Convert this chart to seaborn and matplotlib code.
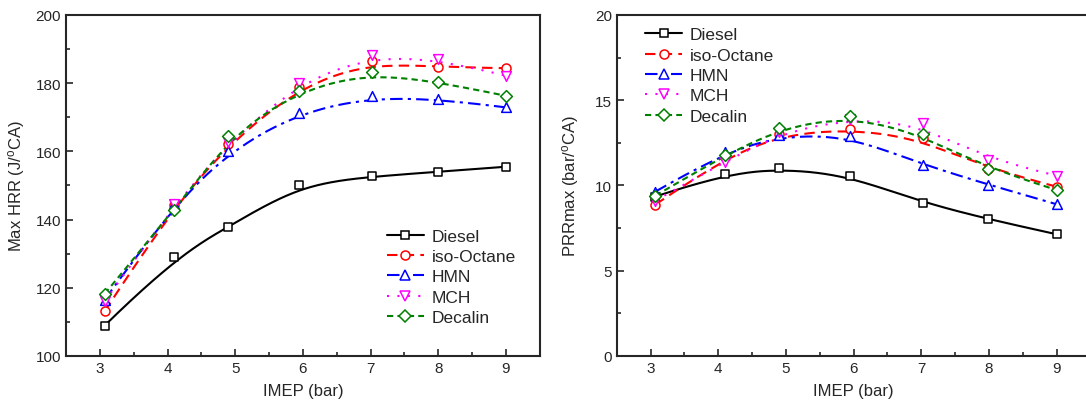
import numpy as np
import pandas as pd
import matplotlib
matplotlib.use("Agg")
import matplotlib.pyplot as plt
from matplotlib.lines import Line2D
import seaborn as sns

# IMEP (bar) at which each fuel was measured
imep = [3.07, 4.1, 4.9, 5.94, 7.02, 7.99, 9.0]
fuels = ["Diesel", "iso-Octane", "HMN", "MCH", "Decalin"]

# Max HRR (J/oCA)
hrr_diesel = [108.9, 128.9, 137.8, 150.1, 152.7, 154.0, 155.5]
hrr_isooctane = [113.1, 144.3, 162.2, 178.8, 186.6, 184.7, 184.4]
hrr_hmn = [116.5, 144.6, 160.2, 171.3, 176.1, 175.4, 172.9]
hrr_mch = [116.0, 144.5, 162.7, 180.0, 188.4, 187.1, 182.2]
hrr_decalin = [118.2, 142.8, 164.6, 177.8, 183.4, 180.4, 176.3]

# PRRmax (bar/oCA)
prr_diesel = [9.35, 10.69, 11.03, 10.58, 8.97, 8.02, 7.14]
prr_isooctane = [8.88, 11.65, 13.0, 13.3, 12.77, 10.97, 9.93]
prr_hmn = [9.64, 11.98, 12.96, 12.92, 11.2, 10.05, 8.9]
prr_mch = [9.11, 11.4, 13.12, 13.9, 13.65, 11.5, 10.58]
prr_decalin = [9.4, 11.79, 13.39, 14.06, 13.02, 10.97, 9.74]

colors = ["#000000", "#ff0000", "#0000ff", "#ff00ff", "#008000"]
markers = ["s", "o", "^", "v", "D"]
msizes = [6, 6.5, 7, 7, 6]
dashes = [(None, None), (5, 3), (6, 2.5, 1.5, 2.5), (1, 4), (3, 2)]


def bspline(x, y, n=300, p=3):
    # clamped cubic B-spline with the points as control points (Origin style smoothing)
    P = np.column_stack([x, y]).astype(float)
    k = len(P)
    inner = np.linspace(0, 1, k - p + 1)
    knots = np.concatenate([np.zeros(p), inner, np.ones(p)])
    t = np.linspace(0, 1, n)
    t[-1] -= 1e-9
    N = np.zeros((n, len(knots) - 1))
    for j in range(len(knots) - 1):
        N[:, j] = (t >= knots[j]) & (t < knots[j + 1])
    for d in range(1, p + 1):
        N_new = np.zeros((n, len(knots) - 1 - d))
        for j in range(len(knots) - 1 - d):
            a = knots[j + d] - knots[j]
            b = knots[j + d + 1] - knots[j + 1]
            left = (t - knots[j]) / a * N[:, j] if a > 0 else 0
            right = (knots[j + d + 1] - t) / b * N[:, j + 1] if b > 0 else 0
            N_new[:, j] = left + right
        N = N_new
    C = N @ P
    return C[:, 0], C[:, 1]


sns.set_style("ticks")
plt.rcParams["font.family"] = ["Liberation Sans", "DejaVu Sans"]
plt.rcParams["mathtext.fontset"] = "custom"
plt.rcParams["mathtext.rm"] = "Liberation Sans"
plt.rcParams["mathtext.default"] = "regular"

fig = plt.figure(figsize=(10.86, 4.10), dpi=100)
ax1 = fig.add_axes([0.0608, 0.1293, 0.4362, 0.8317])
ax2 = fig.add_axes([0.5679, 0.1293, 0.4362, 0.8317])


def draw(ax, series):
    for i, ys in enumerate(series):
        xs, yy = bspline(imep, ys)
        line_df = pd.DataFrame({"x": xs, "y": yy})
        sns.lineplot(data=line_df, x="x", y="y", ax=ax, color=colors[i], lw=1.5,
                     estimator=None, sort=False, zorder=2)
        if dashes[i][0] is not None:
            ax.lines[-1].set_dashes(dashes[i])
        pt_df = pd.DataFrame({"x": imep, "y": ys})
        sns.scatterplot(data=pt_df, x="x", y="y", ax=ax, marker=markers[i],
                        s=msizes[i] ** 2, facecolor="white", edgecolor=colors[i],
                        linewidth=1.1, zorder=3)


draw(ax1, [hrr_diesel, hrr_isooctane, hrr_hmn, hrr_mch, hrr_decalin])
draw(ax2, [prr_diesel, prr_isooctane, prr_hmn, prr_mch, prr_decalin])

handles = []
for i, name in enumerate(fuels):
    h = Line2D([], [], color=colors[i], lw=1.5, marker=markers[i], ms=msizes[i],
               mfc="white", mec=colors[i], mew=1.1, label=name)
    if dashes[i][0] is not None:
        h.set_dashes(dashes[i])
    handles.append(h)

for ax in (ax1, ax2):
    ax.set_xlim(2.5, 9.5)
    ax.set_xticks(range(3, 10))
    ax.set_xticks(np.arange(2.5, 9.6, 0.5), minor=True)
    ax.tick_params(which="both", direction="in", top=False, right=False,
                   labelsize=11, width=1.2)
    ax.tick_params(which="major", length=5)
    ax.tick_params(which="minor", length=3)
    for s in ax.spines.values():
        s.set_linewidth(1.5)
    ax.set_xlabel("IMEP (bar)", fontsize=12, labelpad=6)

ax1.set_ylim(100, 200)
ax1.set_yticks(range(100, 201, 20))
ax1.set_yticks(range(100, 201, 10), minor=True)
ax1.set_ylabel("Max HRR (J/$^o$CA)", fontsize=12, labelpad=6)

ax2.set_ylim(0, 20)
ax2.set_yticks(range(0, 21, 5))
ax2.set_yticks(np.arange(0, 20.1, 2.5), minor=True)
ax2.set_ylabel("PRRmax (bar/$^o$CA)", fontsize=12, labelpad=10)

leg_kw = dict(handles=handles, frameon=False, fontsize=12.5, handlelength=2.1,
              handletextpad=0.45, labelspacing=0.3, numpoints=1,
              borderaxespad=0.3)
ax1.legend(loc="lower right", bbox_to_anchor=(0.975, 0.055), **leg_kw)
ax2.legend(loc="upper left", bbox_to_anchor=(0.035, 1.0), **leg_kw)

fig.savefig("out.png", dpi=100)
